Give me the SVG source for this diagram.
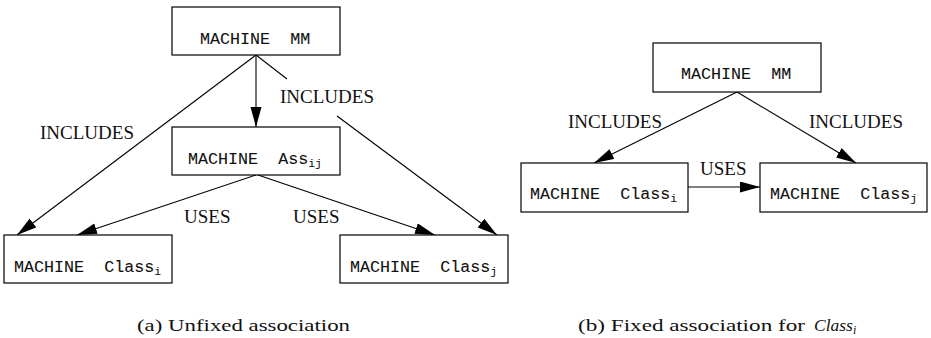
<svg xmlns="http://www.w3.org/2000/svg" width="931" height="338" viewBox="0 0 931 338">
  <style>
    .box { fill: #fff; stroke: #000; stroke-width: 1.2; }
    .mono { font-family: "Liberation Mono", "DejaVu Sans Mono", monospace; font-size: 16.7px; fill: #111; stroke: #111; stroke-width: 0.1; }
    .sub { font-size: 11.5px; stroke-width: 0.05; }
    .lbl { font-family: "Liberation Serif", "Times New Roman", serif; font-size: 19px; fill: #111; }
    .cap { font-family: "Liberation Serif", "Times New Roman", serif; font-size: 17.5px; fill: #111; }
    .edge { stroke: #000; stroke-width: 1.1; fill: none; }
    .arrow { marker-end: url(#head); }
  </style>
  <defs>
    <marker id="head" markerUnits="userSpaceOnUse" markerWidth="21" markerHeight="12" refX="20" refY="5.5" orient="auto">
      <path d="M0,0 L20,5.5 L0,11 Z" fill="#000"/>
    </marker>
  </defs>

  <rect width="931" height="338" fill="#fff"/>

  <!-- (a) unfixed association -->
  <g id="connectors-a">
    <line class="edge arrow" x1="256" y1="55" x2="256" y2="127"/>
    <line class="edge arrow" x1="256" y1="55" x2="17" y2="235"/>
    <line class="edge" x1="256" y1="55" x2="287" y2="79"/>
    <line class="edge arrow" x1="337" y1="116" x2="497" y2="235"/>
    <line class="edge arrow" x1="256" y1="175" x2="77" y2="235"/>
    <line class="edge arrow" x1="258" y1="175" x2="435" y2="235"/>
    <text class="lbl" x="40" y="139">INCLUDES</text>
    <text class="lbl" x="280" y="103">INCLUDES</text>
    <text class="lbl" x="184" y="223">USES</text>
    <text class="lbl" x="293" y="223">USES</text>
  </g>

  <g id="a-mm">
    <rect class="box" x="172" y="7" width="168" height="48"/>
    <text class="mono" x="200" y="44" xml:space="preserve">MACHINE  MM</text>
  </g>
  <g id="a-ass">
    <rect class="box" x="172" y="127" width="168" height="48"/>
    <text class="mono" x="188" y="164" xml:space="preserve">MACHINE  Ass<tspan class="sub" dy="3">ij</tspan></text>
  </g>
  <g id="a-class-i">
    <rect class="box" x="4" y="235" width="168" height="48"/>
    <text class="mono" x="14" y="272" xml:space="preserve">MACHINE  Class<tspan class="sub" dy="3">i</tspan></text>
  </g>
  <g id="a-class-j">
    <rect class="box" x="340" y="235" width="168" height="48"/>
    <text class="mono" x="350" y="272" xml:space="preserve">MACHINE  Class<tspan class="sub" dy="3">j</tspan></text>
  </g>

  <!-- (b) fixed association -->
  <g id="connectors-b">
    <line class="edge arrow" x1="737" y1="92" x2="594" y2="163"/>
    <line class="edge arrow" x1="737" y1="92" x2="856" y2="163"/>
    <line class="edge arrow" x1="688" y1="187" x2="760" y2="187"/>
    <text class="lbl" x="568" y="128">INCLUDES</text>
    <text class="lbl" x="809" y="128">INCLUDES</text>
    <text class="lbl" x="700" y="175">USES</text>
  </g>

  <g id="b-mm">
    <rect class="box" x="653" y="43" width="168" height="49"/>
    <text class="mono" x="681" y="79" xml:space="preserve">MACHINE  MM</text>
  </g>
  <g id="b-class-i">
    <rect class="box" x="521" y="163" width="167" height="49"/>
    <text class="mono" x="530" y="199" xml:space="preserve">MACHINE  Class<tspan class="sub" dy="3">i</tspan></text>
  </g>
  <g id="b-class-j">
    <rect class="box" x="760" y="163" width="167" height="49"/>
    <text class="mono" x="770" y="199" xml:space="preserve">MACHINE  Class<tspan class="sub" dy="3">j</tspan></text>
  </g>

  <!-- captions -->
  <text class="cap" x="137" y="331" textLength="213" lengthAdjust="spacingAndGlyphs">(a) Unfixed association</text>
  <text class="cap" x="578" y="331" textLength="227" lengthAdjust="spacingAndGlyphs">(b) Fixed association for</text>
  <text class="cap" x="814" y="331" font-style="italic">Class<tspan font-size="12px" dy="3">i</tspan></text>
</svg>
